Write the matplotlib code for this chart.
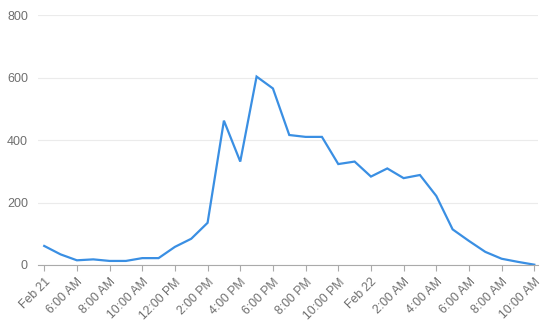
import matplotlib.pyplot as plt

plt.rcParams['font.family'] = ['Liberation Sans', 'DejaVu Sans']

# hourly values starting at the "Feb 21" tick
hours = list(range(31))
values = [61, 34, 15, 18, 13, 13, 22, 22, 58, 84, 135, 462, 331, 603, 565,
          416, 410, 410, 323, 331, 283, 309, 278, 288, 221, 114, 77, 42, 20, 10, 1]

tick_hours = list(range(0, 31, 2))
tick_labels = ['Feb 21', '6:00 AM', '8:00 AM', '10:00 AM', '12:00 PM', '2:00 PM',
               '4:00 PM', '6:00 PM', '8:00 PM', '10:00 PM', 'Feb 22', '2:00 AM',
               '4:00 AM', '6:00 AM', '8:00 AM', '10:00 AM']
y_ticks = [0, 200, 400, 600, 800]

fig = plt.figure(figsize=(5.43, 3.34), dpi=100)
ax = fig.add_axes([0.0694, 0.2066, 0.9206, 0.7484])

ax.plot(hours, values, color='#3a8fe3', linewidth=1.6, solid_joinstyle='miter')

ax.set_xlim(-0.4, 30.2)
ax.set_ylim(0, 800)
ax.set_yticks(y_ticks)
ax.set_yticklabels([str(v) for v in y_ticks], fontsize=9, color='#6f6f6f')
ax.set_xticks(tick_hours)
ax.set_xticklabels(tick_labels, rotation=45, ha='right', rotation_mode='anchor',
                   fontsize=8.8, color='#6f6f6f')

ax.grid(axis='y', color='#ebebeb', linewidth=0.8)
ax.set_axisbelow(True)
for s in ['top', 'right', 'left']:
    ax.spines[s].set_visible(False)
ax.spines['bottom'].set_color('#aaaaaa')
ax.tick_params(axis='y', length=0, pad=7)
ax.tick_params(axis='x', length=4, color='#aaaaaa', pad=4)

plt.savefig('out.png', dpi=100)
